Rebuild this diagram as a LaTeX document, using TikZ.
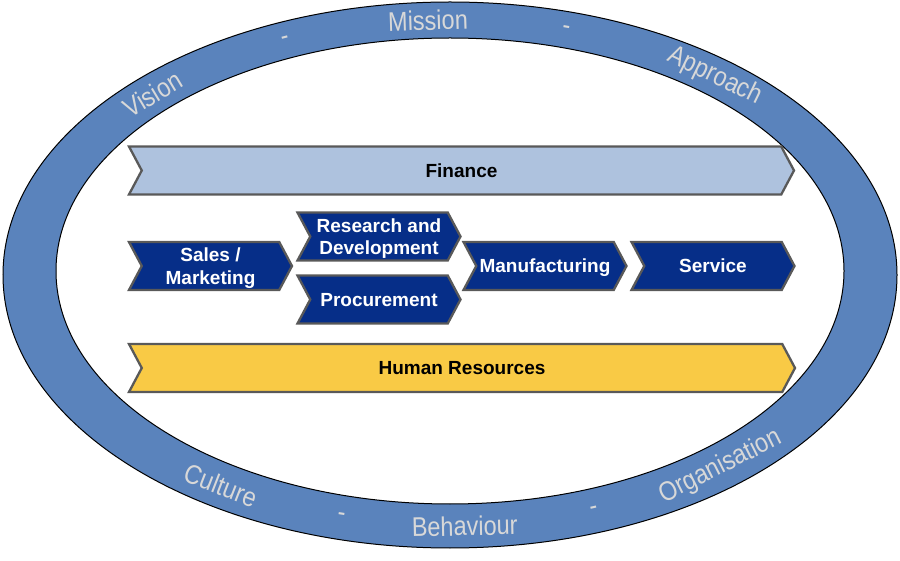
\documentclass[tikz,border=0pt]{standalone}
\usepackage{fontspec}
\setmainfont{Liberation Sans}
\usetikzlibrary{shapes.symbols}
\definecolor{ringblue}{RGB}{90,131,188}
\definecolor{ringtext}{RGB}{216,216,216}
\definecolor{navy}{RGB}{6,46,136}
\definecolor{lightblue}{RGB}{174,194,222}
\definecolor{hryellow}{RGB}{249,202,69}
\definecolor{edgegrey}{RGB}{89,89,89}
\tikzset{
  chevron/.style={signal, signal to=east, signal from=west, signal pointer angle=124,
    draw=edgegrey, line width=2.3pt, minimum height=48pt, inner sep=0pt, align=center,
    text depth=0pt, font=\bfseries\fontsize{19}{22.5}\selectfont},
  valuebox/.style={chevron, fill=navy, text=white, minimum width=163pt},
  ringlabel/.style={text=ringtext, font=\fontsize{23.5}{23.5}\selectfont, yscale=1.15}
}
\begin{document}
\begin{tikzpicture}[x=1pt,y=1pt]
\useasboundingbox (0,0) rectangle (900,560);
\fill[ringblue,even odd rule,draw=black,line width=1pt]
  (450,285) ellipse [x radius=447,y radius=273]
  (450,289) ellipse [x radius=394,y radius=233];
\foreach \t/\word [count=\i] in {135/Vision,113/-,93/Mission,74/-,51/Approach}
  \node[rotate={atan2(-253*cos(\t),421*sin(\t))}, ringlabel] (top\i)
    at ({450+421*cos(\t)},{287+253*sin(\t)}) {\word};
\foreach \t/\word [count=\i] in {237/Culture,255/-,272/Behaviour,290/-,310/Organisation}
  \node[rotate={atan2(253*cos(\t),-421*sin(\t))}, ringlabel] (bottom\i)
    at ({450+421*cos(\t)},{287+253*sin(\t)}) {\word};
\node[chevron, fill=lightblue, minimum width=665pt] (finance) at (461.5,389.5) {Finance};
\node[valuebox] (sales) at (210.5,294) {Sales /\\Marketing};
\node[valuebox] (rnd) at (379,323.5) {Research and\\Development};
\node[valuebox] (procurement) at (379,260.5) {Procurement};
\node[valuebox] (manufacturing) at (545,294) {Manufacturing};
\node[valuebox] (service) at (713,294) {Service};
\node[chevron, fill=hryellow, minimum width=666pt] (hr) at (462,192) {Human Resources};
\end{tikzpicture}
\end{document}
